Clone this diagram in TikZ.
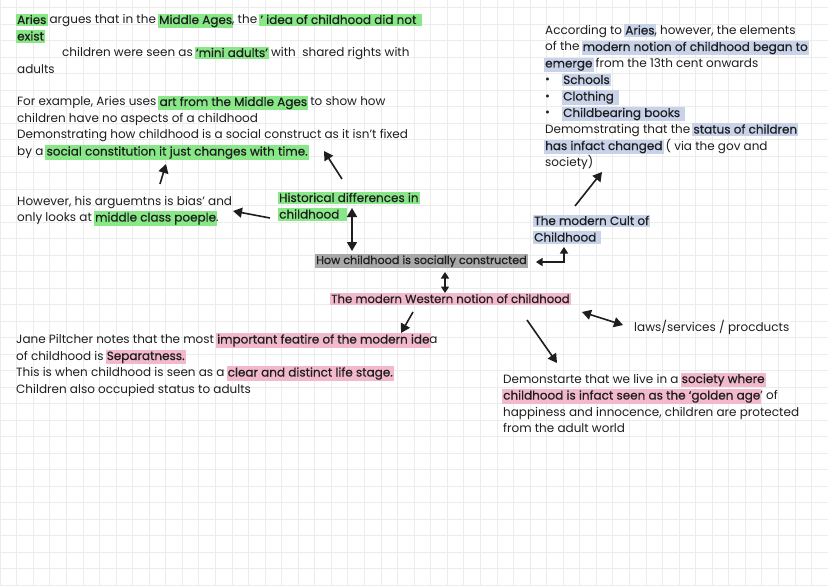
\documentclass[tikz,border=0pt]{standalone}
\usepackage{fontspec}
\setmainfont{Poppins}
\newfontfamily\hlfont[FakeBold=0.5,Ligatures=TeX]{Poppins}
\usetikzlibrary{arrows.meta}
\definecolor{hlgreen}{HTML}{88E888}
\definecolor{hlblue}{HTML}{C8D3EA}
\definecolor{hlpink}{HTML}{F2B8CC}
\definecolor{hlgrey}{HTML}{A8A8A8}
\definecolor{gridc}{HTML}{ECECEC}
\definecolor{ink}{HTML}{1E1E1E}
\newcommand\hlx[2]{{\setlength\fboxsep{1.2pt}\kern-1.2pt\colorbox{#1}{\hlfont\rule[-1pt]{0pt}{9.6pt}#2}\kern-1.2pt}}
\newcommand\hg[1]{\hlx{hlgreen}{#1}}
\newcommand\hb[1]{\hlx{hlblue}{#1}}
\newcommand\hp[1]{\hlx{hlpink}{#1}}
\newcommand\bul{\makebox[18pt][l]{•}}
\tikzset{
  txt/.style={anchor=base west, inner sep=0pt, text=ink, font=\fontsize{12}{14}\selectfont},
  arr/.style={line width=1.6pt, draw=ink, -{Triangle[width=10pt,length=9pt]}},
  darr/.style={line width=1.6pt, draw=ink, {Triangle[width=10pt,length=9pt]}-{Triangle[width=10pt,length=9pt]}},
  sdarr/.style={line width=1.6pt, draw=ink, {Triangle[width=8pt,length=6.5pt]}-{Triangle[width=8pt,length=6.5pt]}}
}
\begin{document}
\begin{tikzpicture}[x=1pt,y=-1pt]
\useasboundingbox (0,0) rectangle (828,586);
\fill[white] (0,0) rectangle (828,586);
\foreach \i in {0,...,50} {\draw[gridc, line width=0.6pt] (\i*16.56,0) -- (\i*16.56,586);}
\foreach \j in {0,...,36} {\draw[gridc, line width=0.6pt] (0,7.5+\j*16.5) -- (828,7.5+\j*16.5);}

% Block A
\node[txt] (a1) at (17,24) {\hg{Aries} argues that in the \hg{Middle Ages}, the \hg{' idea of childhood did not\hspace{4pt}}};
\node[txt] (a2) at (17,40.5) {\hg{exist}};
\node[txt] (a3) at (62,57) {children were seen as \hg{`mini adults'} with\ \ shared rights with};
\node[txt] (a4) at (17,73.5) {adults};

% Block B
\node[txt] (b1) at (17,106) {For example, Aries uses \hg{art from the Middle Ages} to show how};
\node[txt] (b2) at (17,122.5) {children have no aspects of a childhood};
\node[txt] (b3) at (17,139) {Demonstrating how childhood is a social construct as it isn't fixed};
\node[txt] (b4) at (17,155.5) {by a \hg{social constitution it just changes with time.}};

% Block C
\node[txt] (c1) at (17,205) {However, his arguemtns is bias' and};
\node[txt] (c2) at (17,221.5) {only looks at \hg{middle class poeple}.};

% Historical
\node[txt] (h1) at (279,202) {\hg{Historical differences in}};
\node[txt] (h2) at (279,218.5) {\hg{childhood\hspace{6pt}}};

% How
\node[txt, font=\fontsize{11.2}{14}\selectfont] (how) at (316,264) {\hlx{hlgrey}{How childhood is socially constructed}};

% Modern Western
\node[txt, font=\fontsize{11.7}{14}\selectfont] (mw) at (331,303) {\hp{The modern Western notion of childhood}};

% Block D
\node[txt] (d1) at (16,343.5) {Jane Piltcher notes that the most \hp{important featire of the modern ide}a};
\node[txt] (d2) at (16,360) {of childhood is \hp{Separatness.}};
\node[txt] (d3) at (16,376.5) {This is when childhood is seen as a \hp{clear and distinct life stage.}};
\node[txt] (d4) at (16,393) {Children also occupied status to adults};

% Block E
\node[txt] (e1) at (545,34.5) {According to \hb{Aries}, however, the elements};
\node[txt] (e2) at (545,51) {of the \hb{modern notion of childhood began to}};
\node[txt] (e3) at (545,67.5) {\hb{emerge} from the 13th cent onwards};
\node[txt] (e4) at (545,84) {\bul\hb{Schools}};
\node[txt] (e5) at (545,100.5) {\bul\hb{Clothing\hspace{4pt}}};
\node[txt] (e6) at (545,117) {\bul\hb{Childbearing books\hspace{4pt}}};
\node[txt] (e7) at (545,133.5) {Demomstrating that the \hb{status of children}};
\node[txt] (e8) at (545,150) {\hb{has infact changed} ( via the gov and};
\node[txt] (e9) at (545,166.5) {society)};

% Cult
\node[txt] (k1) at (534,225) {\hb{The modern Cult of}};
\node[txt] (k2) at (534,241.5) {\hb{Childhood\hspace{3pt}}};

% laws
\node[txt] (laws) at (634,331) {laws/services / procducts};

% Block F
\node[txt] (f1) at (503,383) {Demonstarte that we live in a \hp{society where}};
\node[txt] (f2) at (503,399.5) {\hp{childhood is infact seen as the `golden age}' of};
\node[txt] (f3) at (503,416) {happiness and innocence, children are protected};
\node[txt] (f4) at (503,432.5) {from the adult world};

% arrow end points
\coordinate (p1s) at (160,184); \coordinate (p1e) at (166,164);
\coordinate (p2s) at (342,179); \coordinate (p2e) at (324,151);
\coordinate (p3s) at (270,218); \coordinate (p3e) at (233,211);
\coordinate (p4s) at (352,208); \coordinate (p4e) at (352,251);
\coordinate (p5s) at (445,272); \coordinate (p5e) at (445,293);
\coordinate (p6s) at (564,247); \coordinate (p6c) at (564,262); \coordinate (p6e) at (536,262);
\coordinate (p7s) at (575,206); \coordinate (p7e) at (602,172);
\coordinate (p8s) at (413,312); \coordinate (p8e) at (401,333);
\coordinate (p9s) at (527,320); \coordinate (p9e) at (557,363);
\coordinate (p10s) at (582,312); \coordinate (p10e) at (623,325);

\draw[arr] (p1s) -- (p1e);
\draw[arr] (p2s) -- (p2e);
\draw[arr] (p3s) -- (p3e);
\draw[darr] (p4s) -- (p4e);
\draw[sdarr] (p5s) -- (p5e);
\draw[sdarr] (p6s) -- (p6c) -- (p6e);
\draw[arr] (p7s) -- (p7e);
\draw[arr] (p8s) -- (p8e);
\draw[arr] (p9s) -- (p9e);
\draw[darr] (p10s) -- (p10e);
\end{tikzpicture}
\end{document}
